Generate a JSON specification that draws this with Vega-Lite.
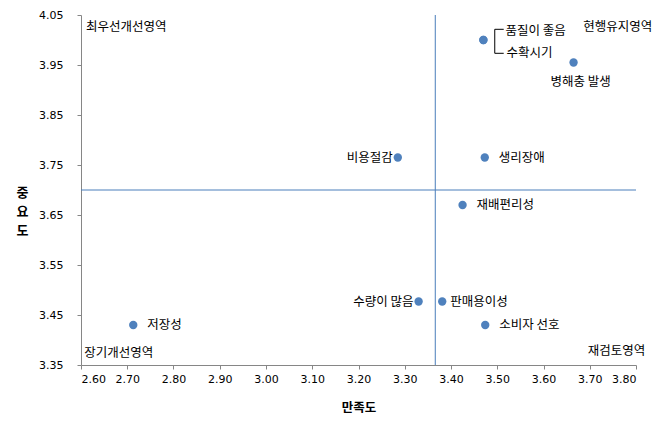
{
  "$schema": "https://vega.github.io/schema/vega-lite/v6.json",
  "width": 555,
  "height": 350,
  "autosize": {"type": "none"},
  "padding": {"left": 81, "top": 15, "right": 27, "bottom": 68},
  "background": "white",
  "config": {
    "view": {"stroke": null},
    "font": "Noto Sans CJK KR",
    "text": {"font": "Noto Sans CJK KR", "fontSize": 12.5, "color": "#000000"}
  },
  "datasets": {
    "pts": [
      {"name": "품질이 좋음", "x": 3.47, "y": 4.0, "pos": "b1"},
      {"name": "수확시기", "x": 3.47, "y": 4.0, "pos": "b2"},
      {"name": "병해충 발생", "x": 3.665, "y": 3.955, "pos": "below"},
      {"name": "비용절감", "x": 3.285, "y": 3.765, "pos": "left"},
      {"name": "생리장애", "x": 3.473, "y": 3.765, "pos": "right"},
      {"name": "재배편리성", "x": 3.425, "y": 3.67, "pos": "right"},
      {"name": "수량이 많음", "x": 3.33, "y": 3.477, "pos": "left"},
      {"name": "판매용이성", "x": 3.381, "y": 3.477, "pos": "right2"},
      {"name": "소비자 선호", "x": 3.474, "y": 3.43, "pos": "right"},
      {"name": "저장성", "x": 2.713, "y": 3.43, "pos": "right"}
    ],
    "quad": [
      {"label": "최우선개선영역", "x": 2.611, "y": 4.026, "side": "left"},
      {"label": "장기개선영역", "x": 2.607, "y": 3.375, "side": "left"},
      {"label": "현행유지영역", "x": 3.835, "y": 4.026, "side": "right"},
      {"label": "재검토영역", "x": 3.82, "y": 3.378, "side": "right"}
    ],
    "bracket": [
      {"x": 3.4946, "y": 4.0214, "x2": 3.4946, "y2": 3.9734},
      {"x": 3.4946, "y": 4.0214, "x2": 3.514, "y2": 4.0214},
      {"x": 3.4946, "y": 3.9734, "x2": 3.514, "y2": 3.9734}
    ],
    "vline": [{"x": 3.366}],
    "hline": [{"y": 3.70}]
  },
  "layer": [
    {
      "data": {"name": "vline"},
      "mark": {"type": "rule", "color": "#4A7EBB", "strokeWidth": 1},
      "encoding": {
        "x": {"field": "x", "type": "quantitative", "scale": {"domain": [2.6, 3.8], "zero": false, "nice": false},
          "axis": {
            "values": [2.6, 2.7, 2.8, 2.9, 3.0, 3.1, 3.2, 3.3, 3.4, 3.5, 3.6, 3.7, 3.8],
            "format": ".2f", "grid": false, "domainColor": "#868686", "tickColor": "#868686",
            "tickSize": 4, "labelFontSize": 11, "labelColor": "#000000", "labelPadding": 4,
            "labelFont": "DejaVu Sans",
            "title": "만족도", "titleFontSize": 12.5, "titleFontWeight": "bold", "titleColor": "#000000",
            "titleFont": "Noto Sans CJK KR", "titleBaseline": "middle", "titleY": 42
          }
        }
      }
    },
    {
      "data": {"name": "hline"},
      "mark": {"type": "rule", "color": "#4A7EBB", "strokeWidth": 1},
      "encoding": {
        "y": {"field": "y", "type": "quantitative", "scale": {"domain": [3.35, 4.05], "zero": false, "nice": false},
          "axis": {
            "values": [3.35, 3.45, 3.55, 3.65, 3.75, 3.85, 3.95, 4.05],
            "format": ".2f", "grid": false, "domainColor": "#868686", "tickColor": "#868686",
            "tickSize": 4, "labelFontSize": 11, "labelColor": "#000000", "labelPadding": 14,
            "labelFont": "DejaVu Sans",
            "title": ["중", "요", "도"], "titleAngle": 0, "titleFontSize": 13, "titleFontWeight": "bold",
            "titleColor": "#000000", "titleFont": "Noto Sans CJK KR", "titleLineHeight": 19,
            "titleX": -59, "titleY": 171, "titleAlign": "center", "titleBaseline": "top"
          }
        }
      }
    },
    {
      "data": {"name": "bracket"},
      "mark": {"type": "rule", "color": "#000000", "strokeWidth": 1},
      "encoding": {
        "x": {"field": "x", "type": "quantitative"},
        "y": {"field": "y", "type": "quantitative"},
        "x2": {"field": "x2"},
        "y2": {"field": "y2"}
      }
    },
    {
      "data": {"name": "pts"},
      "mark": {"type": "circle", "size": 70, "color": "#4F81BD", "opacity": 1},
      "encoding": {
        "x": {"field": "x", "type": "quantitative"},
        "y": {"field": "y", "type": "quantitative"}
      }
    },
    {
      "data": {"name": "pts"},
      "transform": [{"filter": "datum.pos === 'right'"}],
      "mark": {"type": "text", "align": "left", "baseline": "middle", "dx": 14},
      "encoding": {
        "x": {"field": "x", "type": "quantitative"},
        "y": {"field": "y", "type": "quantitative"},
        "text": {"field": "name"}
      }
    },
    {
      "data": {"name": "pts"},
      "transform": [{"filter": "datum.pos === 'right2'"}],
      "mark": {"type": "text", "align": "left", "baseline": "middle", "dx": 8},
      "encoding": {
        "x": {"field": "x", "type": "quantitative"},
        "y": {"field": "y", "type": "quantitative"},
        "text": {"field": "name"}
      }
    },
    {
      "data": {"name": "pts"},
      "transform": [{"filter": "datum.pos === 'left'"}],
      "mark": {"type": "text", "align": "right", "baseline": "middle", "dx": -5},
      "encoding": {
        "x": {"field": "x", "type": "quantitative"},
        "y": {"field": "y", "type": "quantitative"},
        "text": {"field": "name"}
      }
    },
    {
      "data": {"name": "pts"},
      "transform": [{"filter": "datum.pos === 'below'"}],
      "mark": {"type": "text", "align": "center", "baseline": "middle", "dx": 7, "dy": 19},
      "encoding": {
        "x": {"field": "x", "type": "quantitative"},
        "y": {"field": "y", "type": "quantitative"},
        "text": {"field": "name"}
      }
    },
    {
      "data": {"name": "pts"},
      "transform": [{"filter": "datum.pos === 'b1'"}],
      "mark": {"type": "text", "align": "left", "baseline": "middle", "dx": 22, "dy": -9},
      "encoding": {
        "x": {"field": "x", "type": "quantitative"},
        "y": {"field": "y", "type": "quantitative"},
        "text": {"field": "name"}
      }
    },
    {
      "data": {"name": "pts"},
      "transform": [{"filter": "datum.pos === 'b2'"}],
      "mark": {"type": "text", "align": "left", "baseline": "middle", "dx": 23, "dy": 13},
      "encoding": {
        "x": {"field": "x", "type": "quantitative"},
        "y": {"field": "y", "type": "quantitative"},
        "text": {"field": "name"}
      }
    },
    {
      "data": {"name": "quad"},
      "transform": [{"filter": "datum.side === 'left'"}],
      "mark": {"type": "text", "align": "left", "baseline": "middle", "fontSize": 12.5},
      "encoding": {
        "x": {"field": "x", "type": "quantitative"},
        "y": {"field": "y", "type": "quantitative"},
        "text": {"field": "label"}
      }
    },
    {
      "data": {"name": "quad"},
      "transform": [{"filter": "datum.side === 'right'"}],
      "mark": {"type": "text", "align": "right", "baseline": "middle", "fontSize": 12.5},
      "encoding": {
        "x": {"field": "x", "type": "quantitative"},
        "y": {"field": "y", "type": "quantitative"},
        "text": {"field": "label"}
      }
    }
  ]
}
